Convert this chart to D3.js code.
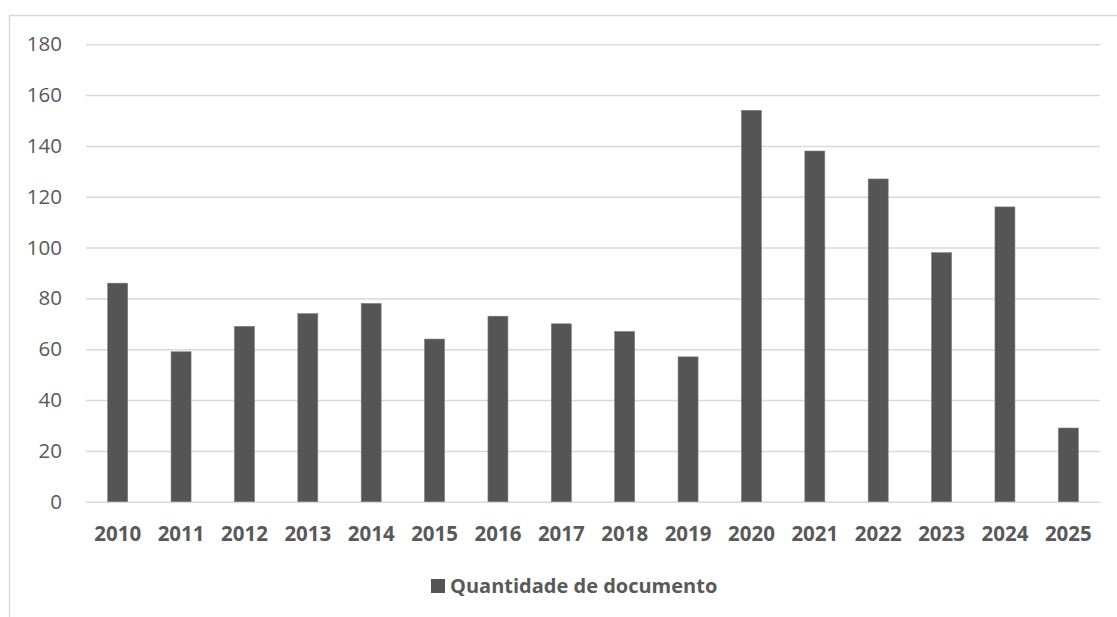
<!DOCTYPE html>
<html>
<head>
<meta charset="utf-8">
<script src="https://cdn.jsdelivr.net/npm/d3@7"></script>
<style>
  body { margin: 0; background: #fff; }
  text { font-family: 'Open Sans', 'Liberation Sans', sans-serif; fill: #595959; }
</style>
</head>
<body>
<script>
var years = ['2010', '2011', '2012', '2013', '2014', '2015', '2016', '2017',
  '2018', '2019', '2020', '2021', '2022', '2023', '2024', '2025']
var counts = [86, 59, 69, 74, 78, 64, 73, 70, 67, 57, 154, 138, 127, 98, 116, 29]
var yTicks = [0, 20, 40, 60, 80, 100, 120, 140, 160, 180]
var seriesName = 'Quantidade de documento'

var data = years.map(function (y, i) { return {key: y, value: counts[i]} })

var w = 1117
var h = 617
var margin = {top: 44.3, right: 17, bottom: 115.3, left: 86}
var width = w - margin.left - margin.right
var height = h - margin.top - margin.bottom

var svg = d3.select('body').append('svg')
  .attr('width', w)
  .attr('height', h)

// chart border (only left and top visible)
svg.append('rect')
  .attr('x', 9.5).attr('y', 15.5)
  .attr('width', w + 20).attr('height', h + 20)
  .attr('fill', 'none')
  .attr('stroke', '#d9d9d9')
  .attr('stroke-width', 1.5)

var chart = svg.append('g')
  .attr('transform', 'translate(' + margin.left + ',' + margin.top + ')')

var x = d3.scaleBand()
  .domain(years)
  .range([0, width])
  .paddingInner(0.685)
  .paddingOuter(0.3425)

var y = d3.scaleLinear()
  .domain([0, 180])
  .range([height, 0])

// gridlines + y labels
var yAxis = chart.append('g')
  .call(d3.axisLeft(y).tickValues(yTicks).tickSize(-width).tickPadding(24))
yAxis.select('.domain').remove()
yAxis.selectAll('line').attr('stroke', '#d9d9d9').attr('stroke-width', 1.5)
yAxis.selectAll('text').style('font-size', '20.5px').attr('fill', '#595959')

// bars
chart.selectAll('.bar')
  .data(data)
  .enter()
    .append('rect')
    .classed('bar', true)
    .attr('x', function (d) { return x(d.key) })
    .attr('y', function (d) { return y(d.value) })
    .attr('width', x.bandwidth())
    .attr('height', function (d) { return height - y(d.value) })
    .attr('fill', '#555555')
    .attr('stroke', '#7a7a7a')
    .attr('stroke-width', 0.6)

// x labels
var xAxis = chart.append('g')
  .attr('transform', 'translate(0,' + height + ')')
  .call(d3.axisBottom(x).tickSize(0).tickPadding(25))
xAxis.select('.domain').remove()
xAxis.selectAll('text')
  .style('font-size', '20.5px')
  .style('font-weight', 'bold')
  .attr('fill', '#595959')

// legend
var legend = svg.append('g').attr('transform', 'translate(431,579)')
legend.append('rect')
  .attr('width', 14).attr('height', 14)
  .attr('fill', '#555555')
legend.append('text')
  .attr('x', 19).attr('y', 7)
  .attr('dy', '0.36em')
  .style('font-size', '20px')
  .style('font-weight', 'bold')
  .text(seriesName)
</script>
</body>
</html>
